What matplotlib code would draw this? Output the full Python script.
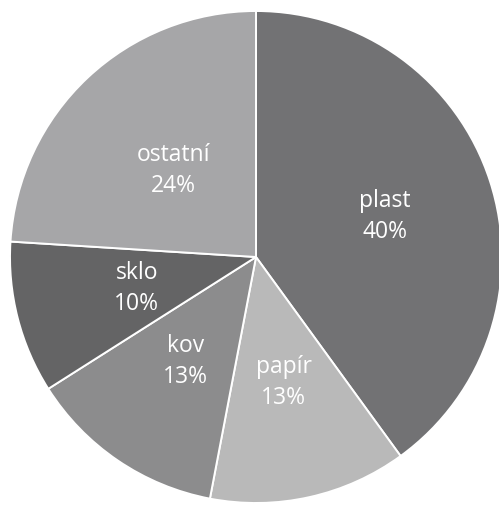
import numpy as np
import matplotlib
matplotlib.use("Agg")
import matplotlib.pyplot as plt

# odpad - slozeni (podily v %)
categories = ["plast", "papír", "kov", "sklo", "ostatní"]
values = [40, 13, 13, 10, 24]
colors = ["#727274", "#b9b9b9", "#8c8c8d", "#646465", "#a6a6a8"]

plt.rcParams['font.family'] = ['Open Sans', 'DejaVu Sans']

fig = plt.figure(figsize=(4.99, 5.06), dpi=100)
ax = fig.add_axes([0, 0, 1, 1])

wedges, _ = ax.pie(values, colors=colors, startangle=90, counterclock=False,
                   wedgeprops=dict(edgecolor="white", linewidth=1.4))

# popisky uvnitr vysecí
label_r = [0.55, 0.52, 0.51, 0.50, 0.49]
for w, name, val, r in zip(wedges, categories, values, label_r):
    ang = np.deg2rad((w.theta1 + w.theta2) / 2)
    ax.text(r * np.cos(ang), r * np.sin(ang), f"{name}\n{val}%",
            ha="center", va="center", color="white", fontsize=16.5,
            linespacing=1.4)

# stred kolace ~ (256, 258) px, polomer ~246 px
ax.set_xlim(-256 / 246, (499 - 256) / 246)
ax.set_ylim(-(506 - 258) / 246, 258 / 246)
ax.set_aspect("auto")
ax.axis("off")

fig.savefig("out.png", dpi=100, facecolor="white")
